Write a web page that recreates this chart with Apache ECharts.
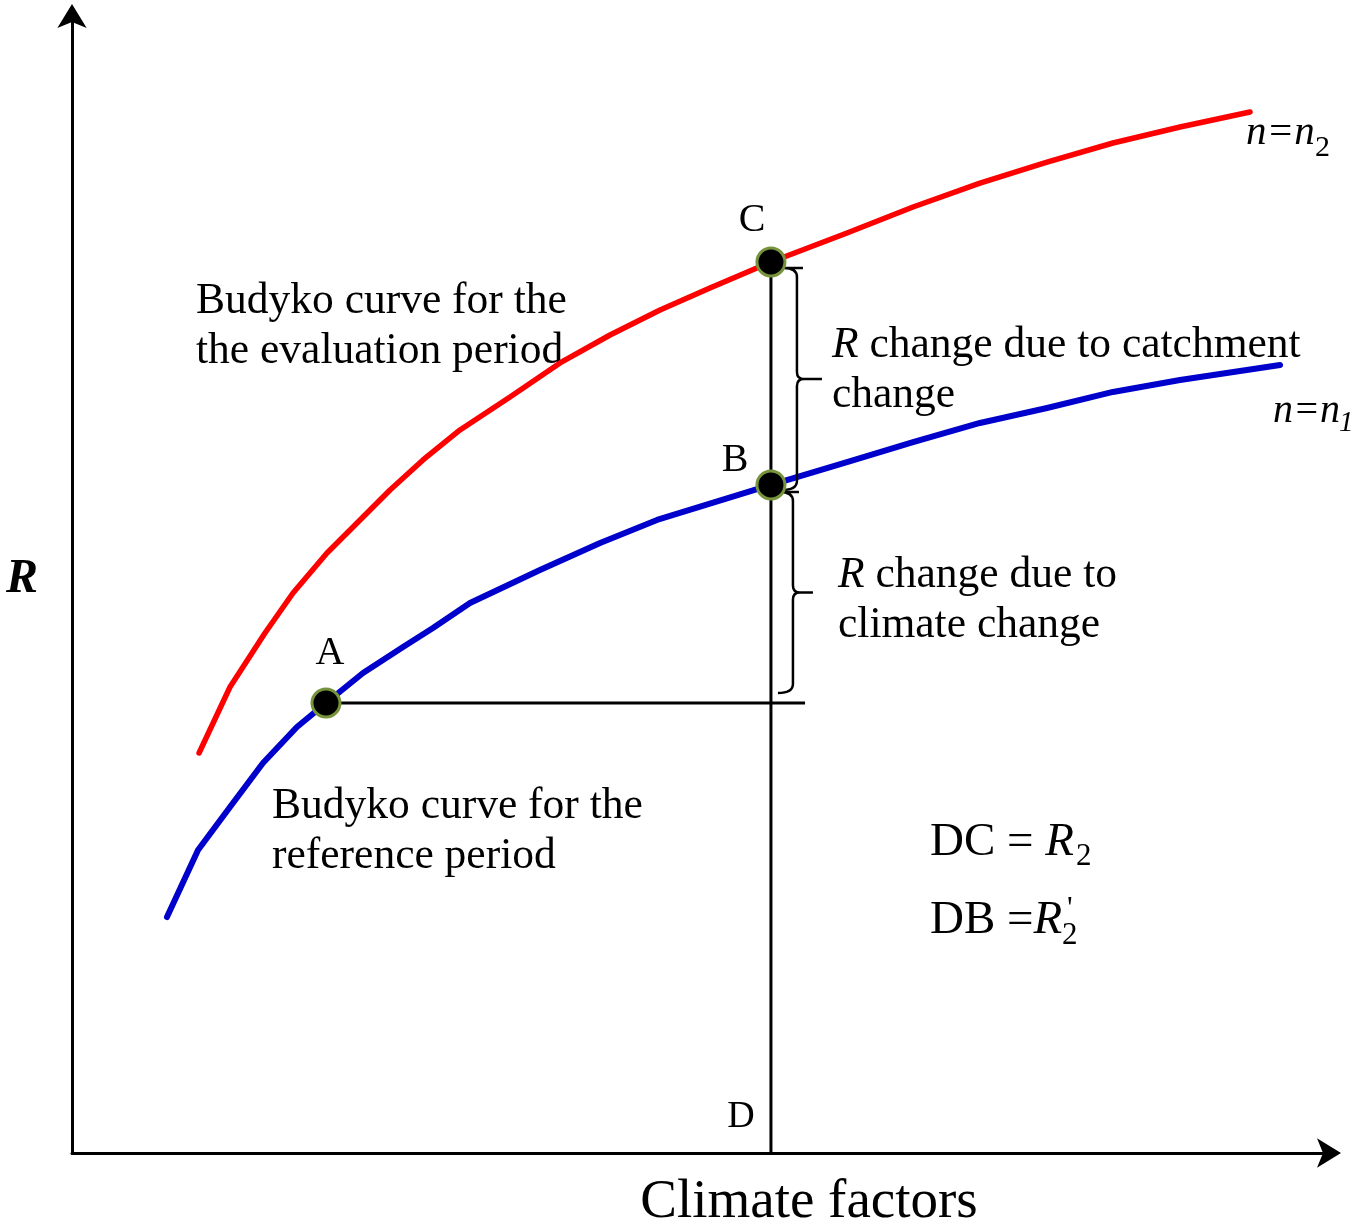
<!DOCTYPE html>
<html>
	<head>
		<meta charset="UTF-8">
		<title>Budyko</title>
		<style>
			html,body{margin:0;padding:0;background:#fff;}
		</style>
	</head>
	<body>
		<div id='chart' style="width:1358px;height:1225px;"></div>
	</body>
	<script type="text/javascript" src="https://cdn.jsdelivr.net/npm/echarts@6/dist/echarts.min.js"></script>
	<script>
		// curve for the evaluation period (n=n2)
		var redX = [10.06, 12.51, 15.28, 17.50, 20.19, 22.57, 25.18, 27.79, 30.72, 34.68, 38.64, 42.60, 46.56, 50.51, 55.34, 61.36, 66.59, 71.89, 77.20, 82.42, 87.73, 93.27];
		var redY = [35.06, 40.84, 45.57, 49.08, 52.59, 55.21, 58.11, 60.74, 63.37, 66.26, 69.24, 71.69, 73.88, 75.81, 78.09, 80.63, 82.91, 85.01, 86.85, 88.52, 89.92, 91.24];
		// curve for the reference period (n=n1)
		var blueX = [7.52, 9.98, 12.51, 15.12, 17.81, 20.11, 23.04, 26.21, 28.58, 31.51, 37.05, 41.81, 46.32, 55.34, 61.36, 66.59, 71.89, 77.20, 82.42, 87.73, 95.65];
		var blueY = [20.68, 26.56, 30.32, 34.18, 37.34, 39.44, 42.07, 44.35, 46.01, 48.20, 51.10, 53.46, 55.48, 58.55, 60.56, 62.31, 63.98, 65.29, 66.70, 67.75, 69.06];
		// A, B, C
		var pointNames = ['A', 'B', 'C'];
		var pointX = [20.11, 55.34, 55.34];
		var pointY = [39.44, 58.55, 78.09];
		var guideEndX = 58.04;

		var FONT = "'Liberation Serif', 'Times New Roman', serif";

		function pairs(xs, ys){
			var out = [];
			for (var i = 0; i < xs.length; i++) out.push([xs[i], ys[i]]);
			return out;
		}

		// offsets of each brace in pixels
		var braceStyle = [
			{dx: 26, tip: 25, padTop: 6, padBot: 5},
			{dx: 22, tip: 20, padTop: 7, padBot: -10}
		];

		function renderBrace(params, api){
			var s = braceStyle[params.dataIndex];
			var top = api.coord([api.value(0), api.value(1)]);
			var bot = api.coord([api.value(0), api.value(2)]);
			var xv = top[0] + s.dx;
			var y1 = top[1] + s.padTop;
			var y2 = bot[1] + s.padBot;
			var mid = (y1 + y2) / 2;
			var d = 'M' + (xv - 13) + ' ' + y1 + ' L' + (xv + 6) + ' ' + y1 +
				' M' + (xv - 13) + ' ' + y1 + ' Q' + xv + ' ' + y1 + ' ' + xv + ' ' + (y1 + 9) +
				' L' + xv + ' ' + (mid - 7) +
				' Q' + xv + ' ' + mid + ' ' + (xv + 7) + ' ' + mid +
				' L' + (xv + s.tip) + ' ' + mid +
				' M' + (xv + 7) + ' ' + mid + ' Q' + xv + ' ' + mid + ' ' + xv + ' ' + (mid + 7) +
				' L' + xv + ' ' + (y2 - 9) +
				' Q' + xv + ' ' + y2 + ' ' + (xv - 15) + ' ' + y2;
			return {
				type: 'path',
				shape: {pathData: d},
				style: {stroke: '#000', fill: 'none', lineWidth: 2.5}
			};
		}

		function txt(x, y, text, size, opts){
			opts = opts || {};
			return {
				type: 'text',
				x: x,
				y: y,
				style: {
					text: text,
					font: (opts.weight || 'normal') + ' ' + (opts.italic ? 'italic ' : '') + size + 'px ' + FONT,
					fill: '#000',
					textAlign: opts.align || 'left',
					textVerticalAlign: opts.valign || 'middle',
					lineHeight: opts.lineHeight,
					rich: opts.rich
				}
			};
		}

		function italic(size){
			return {i: {fontStyle: 'italic', fontSize: size, fontFamily: FONT}};
		}

		var chart = echarts.init(document.getElementById('chart'));
		var option = {
			animation: false,
			backgroundColor: '#fff',
			grid: {left: 72, right: 23, top: 12, bottom: 72},
			xAxis: {
				type: 'value', min: 0, max: 100,
				axisLine: {show: true, symbol: ['none', 'arrow'], symbolSize: [22, 24], symbolOffset: [0, 6], lineStyle: {color: '#000', width: 3}},
				axisTick: {show: false}, axisLabel: {show: false}, splitLine: {show: false}
			},
			yAxis: {
				type: 'value', min: 0, max: 100,
				axisLine: {show: true, symbol: ['none', 'arrow'], symbolSize: [22, 24], symbolOffset: [0, 8], lineStyle: {color: '#000', width: 3}},
				axisTick: {show: false}, axisLabel: {show: false}, splitLine: {show: false}
			},
			series: [
				{
					type: 'line', name: 'guideV', symbol: 'none',
					data: [[pointX[2], 0], [pointX[2], pointY[2]]],
					lineStyle: {color: '#000', width: 3}, z: 2
				},
				{
					type: 'line', name: 'guideH', symbol: 'none',
					data: [[pointX[0], pointY[0]], [guideEndX, pointY[0]]],
					lineStyle: {color: '#000', width: 3}, z: 2
				},
				{
					type: 'line', name: 'n2', symbol: 'none', smooth: false,
					data: pairs(redX, redY),
					lineStyle: {color: '#ff0000', width: 5.5, cap: 'round', join: 'round'}, z: 3
				},
				{
					type: 'line', name: 'n1', symbol: 'none', smooth: false,
					data: pairs(blueX, blueY),
					lineStyle: {color: '#0000cc', width: 6, cap: 'round', join: 'round'}, z: 3
				},
				{
					type: 'custom', name: 'braces',
					renderItem: renderBrace,
					encode: {x: 0, y: [1, 2]},
					data: [[pointX[1], pointY[2], pointY[1]], [pointX[1], pointY[1], pointY[0]]],
					z: 4
				},
				{
					type: 'scatter', name: 'points',
					symbolSize: 28,
					itemStyle: {color: '#000', borderColor: '#77933c', borderWidth: 3, opacity: 1},
					data: pairs(pointX, pointY),
					z: 5
				}
			],
			graphic: [
				txt(22, 580, 'R', 48, {weight: 'bold', italic: true, align: 'center'}),
				txt(809, 1203, 'Climate factors', 55, {align: 'center'}),
				txt(330, 653, pointNames[0], 40, {align: 'center'}),
				txt(735, 460, pointNames[1], 40, {align: 'center'}),
				txt(752, 220, pointNames[2], 40, {align: 'center'}),
				txt(741, 1117, 'D', 38, {align: 'center'}),
				txt(196, 277, 'Budyko curve for the\nthe evaluation period', 43.5, {valign: 'top', lineHeight: 50}),
				txt(272, 782, 'Budyko curve for the\nreference period', 43.5, {valign: 'top', lineHeight: 50}),
				txt(832, 321, '{i|R} change due to catchment\nchange', 43.5, {valign: 'top', lineHeight: 50, rich: italic(43.5)}),
				txt(838, 551, '{i|R} change due to\nclimate change', 43.5, {valign: 'top', lineHeight: 50, rich: italic(43.5)}),
				txt(1246, 133, 'n=n', 41, {italic: true}),
				txt(1315, 148, '2', 30),
				txt(1273, 411, 'n=n', 40, {italic: true}),
				txt(1339, 423, '1', 29, {italic: true}),
				txt(930, 843, 'DC = {i|R}', 47, {rich: italic(47)}),
				txt(1076, 857, '2', 31),
				txt(930, 921, 'DB ={i|R}', 47, {rich: italic(47)}),
				txt(1062, 936, '2', 31),
				txt(1067, 910, '\'', 31)
			]
		};
		chart.setOption(option);
	</script>
</html>
